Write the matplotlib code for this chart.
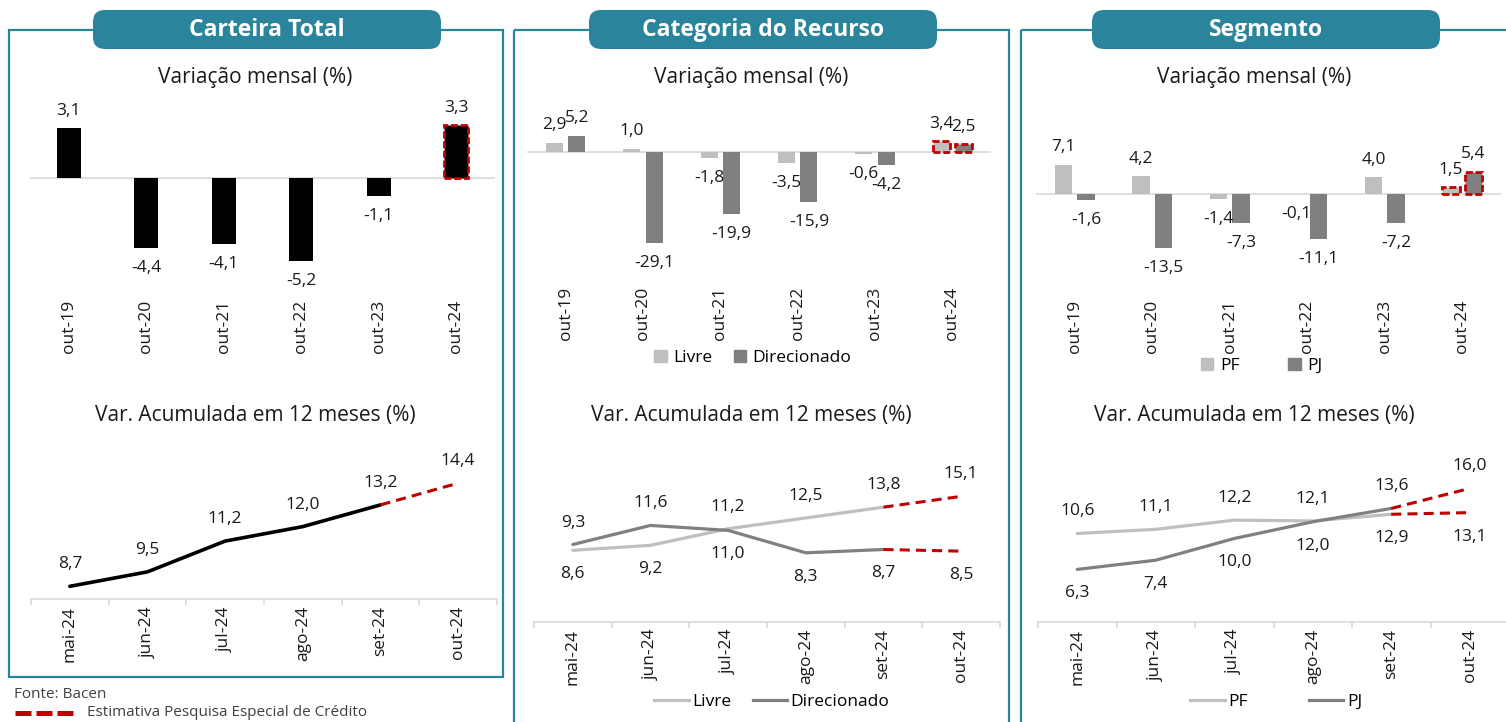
import numpy as np
import matplotlib
matplotlib.use('Agg')
import matplotlib.pyplot as plt
from matplotlib.patches import Rectangle, FancyBboxPatch, Patch
from matplotlib.lines import Line2D

plt.rcParams['font.family'] = ['Open Sans', 'Noto Sans', 'DejaVu Sans']

# dados
meses_barra = ['out-19', 'out-20', 'out-21', 'out-22', 'out-23', 'out-24']
meses_linha = ['mai-24', 'jun-24', 'jul-24', 'ago-24', 'set-24', 'out-24']

total_mensal = [3.1, -4.4, -4.1, -5.2, -1.1, 3.3]
total_acum = [8.7, 9.5, 11.2, 12.0, 13.2, 14.4]

livre_mensal = [2.9, 1.0, -1.8, -3.5, -0.6, 3.4]
direc_mensal = [5.2, -29.1, -19.9, -15.9, -4.2, 2.5]
livre_acum = [8.6, 9.2, 11.2, 12.5, 13.8, 15.1]
direc_acum = [9.3, 11.6, 11.0, 8.3, 8.7, 8.5]

pf_mensal = [7.1, 4.2, -1.4, -0.1, 4.0, 1.5]
pj_mensal = [-1.6, -13.5, -7.3, -11.1, -7.2, 5.4]
pf_acum = [10.6, 11.1, 12.2, 12.1, 12.9, 13.1]
pj_acum = [6.3, 7.4, 10.0, 12.0, 13.6, 16.0]

TEAL = '#2A849C'
RED = '#C00000'
CINZA_CLARO = '#BFBFBF'
CINZA_ESCURO = '#808080'
EIXO = '#D9D9D9'
TXT = '#1a1a1a'

W, H = 1506, 722
fig = plt.figure(figsize=(W / 100, H / 100), dpi=100)

def fmt(v):
    return f'{v:.1f}'.replace('.', ',')

def px_ax(x0, y0, x1, y1):
    return fig.add_axes([x0 / W, 1 - y1 / H, (x1 - x0) / W, (y1 - y0) / H])

def px(n):
    return n * 0.72

# fundo: molduras, cabeçalhos e textos soltos
bg = fig.add_axes([0, 0, 1, 1])
bg.set_xlim(0, W)
bg.set_ylim(H, 0)
bg.axis('off')
bg.set_zorder(0)

for x0, w, h, cx, titulo in [(9, 494, 647, 267, 'Carteira Total'),
                             (514, 495, 800, 763, 'Categoria do Recurso'),
                             (1021, 600, 800, 1266, 'Segmento')]:
    bg.add_patch(Rectangle((x0, 30), w, h, fill=False, ec=TEAL, lw=1.6))
    bg.add_patch(FancyBboxPatch((cx - 174, 10), 348, 39,
                                boxstyle='round,pad=0,rounding_size=12',
                                fc=TEAL, ec='none'))
    bg.text(cx, 29.5, titulo, color='white', fontsize=16.5, fontweight='bold',
            ha='center', va='center')
    bg.text(cx - 12, 77, 'Variação mensal (%)', color=TXT, fontsize=15,
            ha='center', va='center')
    bg.text(cx - 12, 416, 'Var. Acumulada em 12 meses (%)', color=TXT,
            fontsize=15, ha='center', va='center')

bg.text(14, 694, 'Fonte: Bacen', color='#404040', fontsize=11, va='center')
bg.plot([15, 74], [713, 713], color=RED, lw=3.6, dashes=(3.2, 1.0))
bg.text(87, 712, 'Estimativa Pesquisa Especial de Crédito', color='#404040',
        fontsize=11, va='center')


def painel_barras(x0, x1, base, escala, top, bottom, series, cores, desloc, larg):
    ax = px_ax(x0, top, x1, bottom)
    ax.set_zorder(1)
    ax.patch.set_alpha(0)
    x = np.arange(len(meses_barra))
    ax.set_xlim(-0.5, 5.5)
    ax.set_ylim(-(bottom - base) / escala, (base - top) / escala)
    ax.axhline(0, color=EIXO, lw=1.2, zorder=1)
    for vals, cor, d in zip(series, cores, desloc):
        barras = ax.bar(x + d, vals, larg, color=cor, zorder=2)
        ult = barras[-1]
        ult.set_edgecolor(RED)
        ult.set_linewidth(2)
        ult.set_linestyle((0, (2.5, 1)))
        for xi, v in zip(x + d, vals):
            off = px(17.5) if v >= 0 else -px(20)
            ax.annotate(fmt(v), (xi, v), xytext=(0, off), textcoords='offset points',
                        ha='center', va='center', fontsize=12.5, color=TXT)
    ax.set_xticks(x, meses_barra, rotation=90, fontsize=12.5, color=TXT)
    ax.tick_params(axis='x', length=0, pad=3)
    ax.set_yticks([])
    for s in ax.spines.values():
        s.set_visible(False)
    return ax


def painel_linhas(x0, x1, eixo_y, escala, ymin, series, cores, lw, posicoes):
    top = 440
    ax = px_ax(x0, top, x1, eixo_y)
    ax.set_zorder(1)
    ax.patch.set_alpha(0)
    x = np.arange(len(meses_linha))
    ax.set_xlim(-0.5, 5.5)
    ax.set_ylim(ymin, ymin + (eixo_y - top) / escala)
    for vals, cor, pos in zip(series, cores, posicoes):
        ax.plot(x[:5], vals[:5], color=cor, lw=lw, solid_capstyle='round', zorder=3)
        ax.plot(x[4:], vals[4:], color=RED, lw=2.2, dashes=(3.3, 2.0), zorder=4)
        for xi, v, p in zip(x, vals, pos):
            off = px(22) if p == 'a' else -px(24)
            ax.annotate(fmt(v), (xi, v), xytext=(0, off), textcoords='offset points',
                        ha='center', va='center', fontsize=12.5, color=TXT, zorder=5)
    ax.set_xticks(x, meses_linha, rotation=90, fontsize=12.5, color=TXT)
    ax.set_xticks(np.arange(-0.5, 6, 1), minor=True)
    ax.tick_params(axis='x', which='major', length=0, pad=px(7))
    ax.tick_params(axis='x', which='minor', length=px(6), color=EIXO, width=1.2)
    ax.set_yticks([])
    for nome, s in ax.spines.items():
        s.set_visible(nome == 'bottom')
    ax.spines['bottom'].set_color(EIXO)
    ax.spines['bottom'].set_linewidth(1.2)
    return ax


# Carteira Total
painel_barras(30, 495, 178, 16.0, 100, 296, [total_mensal], ['black'], [0], 0.31)
painel_linhas(31, 497, 599, 18.1, 8.0, [total_acum], ['black'], 2.6, [['a'] * 6])

# Categoria do Recurso
axb = painel_barras(527, 991, 152, 3.13, 100, 283, [livre_mensal, direc_mensal],
                    [CINZA_CLARO, CINZA_ESCURO], [-0.145, 0.145], 0.22)
axb.legend(handles=[Patch(color=CINZA_CLARO, label='Livre'),
                    Patch(color=CINZA_ESCURO, label='Direcionado')],
           loc='center', bbox_to_anchor=(753 / W, 1 - 358 / H),
           bbox_transform=fig.transFigure, ncol=2, frameon=False, fontsize=12.5,
           handlelength=0.7, handleheight=0.7, handletextpad=0.4, columnspacing=1.2)
axl = painel_linhas(534, 1000, 621.7, 8.3, 0, [livre_acum, direc_acum],
                    [CINZA_CLARO, CINZA_ESCURO], 2.3,
                    [['b', 'b', 'a', 'a', 'a', 'a'], ['a', 'a', 'b', 'b', 'b', 'b']])
axl.legend(handles=[Line2D([], [], color=CINZA_CLARO, lw=2.3, label='Livre'),
                    Line2D([], [], color=CINZA_ESCURO, lw=2.3, label='Direcionado')],
           loc='center', bbox_to_anchor=(772 / W, 1 - 702 / H),
           bbox_transform=fig.transFigure, ncol=2, frameon=False, fontsize=12.5,
           handlelength=2.0, handletextpad=0.2, columnspacing=1.2)

# Segmento
axb = painel_barras(1036, 1501, 193.5, 4.07, 110, 296, [pf_mensal, pj_mensal],
                    [CINZA_CLARO, CINZA_ESCURO], [-0.145, 0.145], 0.22)
axb.legend(handles=[Patch(color=CINZA_CLARO, label='PF'),
                    Patch(color=CINZA_ESCURO, label='PJ')],
           loc='center', bbox_to_anchor=(1262 / W, 1 - 366 / H),
           bbox_transform=fig.transFigure, ncol=2, frameon=False, fontsize=12.5,
           handlelength=0.7, handleheight=0.7, handletextpad=0.4, columnspacing=2.8)
axl = painel_linhas(1038, 1509, 622, 8.35, 0, [pf_acum, pj_acum],
                    [CINZA_CLARO, CINZA_ESCURO], 2.3,
                    [['a', 'a', 'a', 'a', 'b', 'b'], ['b', 'b', 'b', 'b', 'a', 'a']])
axl.legend(handles=[Line2D([], [], color=CINZA_CLARO, lw=2.3, label='PF'),
                    Line2D([], [], color=CINZA_ESCURO, lw=2.3, label='PJ')],
           loc='center', bbox_to_anchor=(1276 / W, 1 - 702 / H),
           bbox_transform=fig.transFigure, ncol=2, frameon=False, fontsize=12.5,
           handlelength=2.0, handletextpad=0.2, columnspacing=3.5)

fig.savefig('out.png', dpi=100)
